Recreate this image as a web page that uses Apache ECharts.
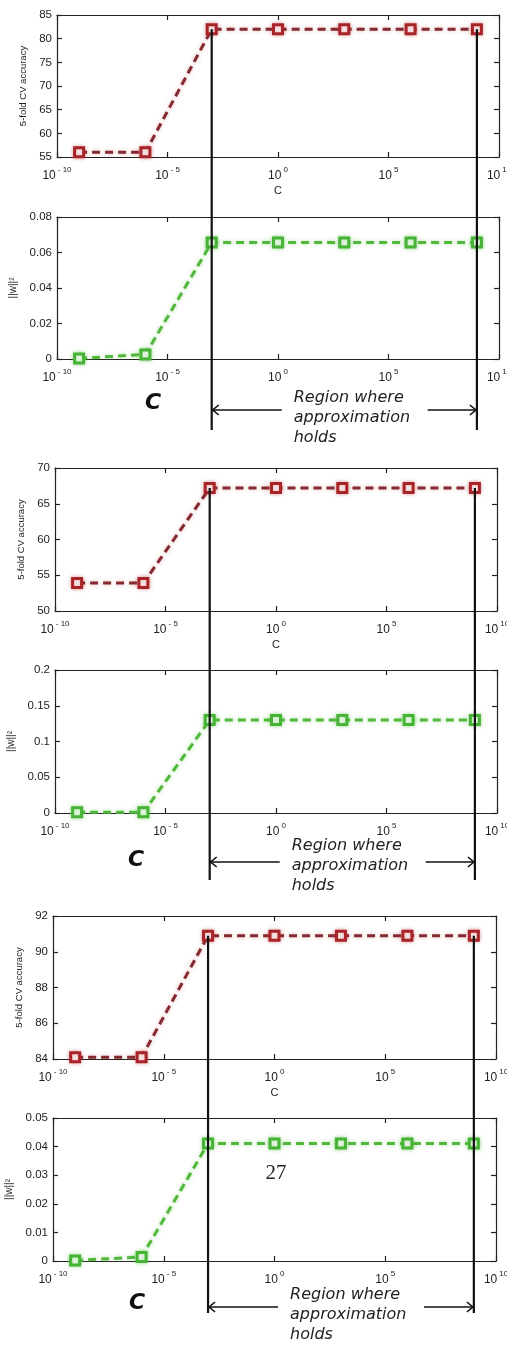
<!DOCTYPE html>
<html>
<head>
<meta charset="utf-8">
<script src="https://cdn.jsdelivr.net/npm/echarts@6/dist/echarts.min.js"></script>
<style>
html, body { margin: 0; padding: 0; background: #fff; }
#main { width: 507px; height: 1347px; }
</style>
</head>
<body>
<div id="main"></div>
<script>
// C values as log10 exponents (10^-9 ... 10^9)
const cExp = [-9, -6, -3, 0, 3, 6, 9];

const acc1 = [56, 56, 82, 82, 82, 82, 82];
const norm1 = [0.0003, 0.0026, 0.0657, 0.0657, 0.0657, 0.0657, 0.0657];
const acc2 = [53.9, 53.9, 67.2, 67.2, 67.2, 67.2, 67.2];
const norm2 = [0.001, 0.001, 0.130, 0.130, 0.130, 0.130, 0.130];
const acc3 = [84.1, 84.1, 90.9, 90.9, 90.9, 90.9, 90.9];
const norm3 = [0.0002, 0.0014, 0.0411, 0.0411, 0.0411, 0.0411, 0.0411];

// y ranges: [min, max, interval]
const yRanges = [
  [55, 85, 5], [0, 0.08, 0.02],
  [50, 70, 5], [0, 0.2, 0.05],
  [84, 92, 2], [0, 0.05, 0.01]
];
const accName = '5-fold CV accuracy';
const normName = '||w||²';

// grid boxes [left, top, width, height]
const boxes = [
  [57, 15, 442, 142], [57, 217, 442, 142],
  [55, 468, 442, 143], [55, 670, 442, 143],
  [53, 916, 443, 143], [53, 1118, 443, 143]
];
// annotation layout per group
const notes = [
  { cx: 153, cy: 403, lineEnd: 71, arrow: 51, text: 22 },
  { cx: 136, cy: 860, lineEnd: 67, arrow: 49, text: 26 },
  { cx: 137, cy: 1303, lineEnd: 52, arrow: 46, text: 22 }
];

const allSeries = [acc1, norm1, acc2, norm2, acc3, norm3];
const RED_LINE = '#842a30', RED_MARK = '#a82428';
const GREEN_LINE = '#52b83c', GREEN_MARK = '#46b236';
const AX = '#222';

const chart = echarts.init(document.getElementById('main'));

const grid = [], xAxis = [], yAxis = [], series = [];
boxes.forEach(function (b) {
  grid.push({ left: b[0], top: b[1], width: b[2], height: b[3], show: false, outerBoundsMode: 'none', containLabel: false });
});

function xLabel(v) {
  return '{b|10}{s|' + (v < 0 ? '- ' + (-v) : v) + '}';
}

const tick = { show: true, inside: true, length: 5, lineStyle: { color: AX, width: 1.2 } };

// main axes 0..5
for (let i = 0; i < 6; i++) {
  const isAcc = i % 2 === 0;
  xAxis.push({
    type: 'value', gridIndex: i, min: -10, max: 10, interval: 5,
    name: isAcc ? 'C' : '', nameLocation: 'middle', nameGap: 28,
    nameTextStyle: { color: AX, fontSize: 11, fontFamily: 'Liberation Sans' },
    axisLine: { onZero: false, lineStyle: { color: AX, width: 1.2 } },
    axisTick: tick,
    splitLine: { show: false },
    axisLabel: {
      margin: 9,
      formatter: xLabel,
      rich: {
        b: { fontSize: 12, color: AX, fontFamily: 'Liberation Sans', verticalAlign: 'bottom', lineHeight: 16 },
        s: { fontSize: 8, color: AX, fontFamily: 'Liberation Sans', verticalAlign: 'top', lineHeight: 16, padding: [0, 0, 6, 2] }
      }
    }
  });
  const r = yRanges[i];
  yAxis.push({
    type: 'value', gridIndex: i, min: r[0], max: r[1], interval: r[2],
    name: isAcc ? accName : normName, nameLocation: 'middle', nameRotate: 90,
    nameGap: isAcc ? 26 : 24,
    nameTextStyle: { color: AX, fontSize: isAcc ? 9.5 : 10, fontFamily: 'Liberation Sans' },
    axisLine: { show: true, onZero: false, lineStyle: { color: AX, width: 1.2 } },
    axisTick: tick,
    splitLine: { show: false },
    axisLabel: { margin: 5, color: AX, fontSize: 11.5, fontFamily: 'Liberation Sans' }
  });
}
// mirror axes 6..11 (top / right frame with inner ticks)
for (let i = 0; i < 6; i++) {
  const r = yRanges[i];
  xAxis.push({
    type: 'value', gridIndex: i, position: 'top', min: -10, max: 10, interval: 5,
    axisLine: { onZero: false, lineStyle: { color: AX, width: 1.2 } },
    axisTick: tick,
    axisLabel: { show: false }, splitLine: { show: false }
  });
  yAxis.push({
    type: 'value', gridIndex: i, position: 'right', min: r[0], max: r[1], interval: r[2],
    axisLine: { show: true, onZero: false, lineStyle: { color: AX, width: 1.2 } },
    axisTick: tick,
    axisLabel: { show: false }, splitLine: { show: false }
  });
}

allSeries.forEach(function (vals, i) {
  const isAcc = i % 2 === 0;
  const lc = isAcc ? RED_LINE : GREEN_LINE;
  const mc = isAcc ? RED_MARK : GREEN_MARK;
  series.push({
    type: 'line', xAxisIndex: i, yAxisIndex: i,
    data: cExp.map(function (c, k) { return [c, vals[k]]; }),
    symbol: 'rect', symbolSize: 9, showSymbol: true,
    lineStyle: { color: lc, width: 3, type: [8, 5], shadowBlur: 4, shadowColor: isAcc ? 'rgba(180,40,40,0.35)' : 'rgba(80,190,60,0.45)' },
    itemStyle: { color: '#fff', borderColor: mc, borderWidth: 3, shadowBlur: 4, shadowColor: isAcc ? 'rgba(180,40,40,0.4)' : 'rgba(80,190,60,0.5)' },
    z: 3,
    animation: false
  });
});

chart.setOption({ animation: false, grid: grid, xAxis: xAxis, yAxis: yAxis, series: series });

// annotations: region lines, arrows, labels
const graphic = [];
notes.forEach(function (n, g) {
  const accIdx = g * 2, normIdx = g * 2 + 1;
  const top = chart.convertToPixel({ seriesIndex: accIdx }, [cExp[2], allSeries[accIdx][2]]);
  const right = chart.convertToPixel({ seriesIndex: accIdx }, [cExp[6], allSeries[accIdx][6]]);
  const bottom = chart.convertToPixel({ seriesIndex: normIdx }, [cExp[2], yRanges[normIdx][0]]);
  const x1 = top[0], x2 = right[0];
  const yEnd = bottom[1] + n.lineEnd;
  const ay = bottom[1] + n.arrow;
  const tx = x1 + 82;
  [[x1, top[1]], [x2, right[1]]].forEach(function (p) {
    graphic.push({ type: 'line', z: 10, shape: { x1: p[0], y1: p[1], x2: p[0], y2: yEnd }, style: { stroke: '#111', lineWidth: 2.2 } });
  });
  graphic.push({ type: 'line', z: 10, shape: { x1: x1, y1: ay, x2: tx - 12, y2: ay }, style: { stroke: '#111', lineWidth: 1.6 } });
  graphic.push({ type: 'line', z: 10, shape: { x1: tx + 134, y1: ay, x2: x2, y2: ay }, style: { stroke: '#111', lineWidth: 1.6 } });
  graphic.push({ type: 'polyline', z: 10, shape: { points: [[x1 + 7, ay - 5], [x1 + 1, ay], [x1 + 7, ay + 5]] }, style: { stroke: '#111', lineWidth: 1.6, fill: null } });
  graphic.push({ type: 'polyline', z: 10, shape: { points: [[x2 - 7, ay - 5], [x2 - 1, ay], [x2 - 7, ay + 5]] }, style: { stroke: '#111', lineWidth: 1.6, fill: null } });
  graphic.push({
    type: 'text', z: 10, x: tx, y: ay - n.text,
    style: {
      text: 'Region where\napproximation\nholds', fill: '#222',
      fontFamily: 'DejaVu Sans', fontStyle: 'italic', fontSize: 16, lineHeight: 20,
      align: 'left', verticalAlign: 'top'
    }
  });
  graphic.push({
    type: 'text', z: 10, x: n.cx, y: n.cy,
    style: {
      text: 'C', fill: '#111', fontFamily: 'DejaVu Sans', fontWeight: 'bold', fontStyle: 'italic',
      fontSize: 22, align: 'center', verticalAlign: 'middle'
    }
  });
});
graphic.push({
  type: 'text', z: 10, x: 276, y: 1173,
  style: { text: '27', fill: '#222', fontFamily: 'Liberation Serif', fontSize: 21, align: 'center', verticalAlign: 'middle' }
});
chart.setOption({ graphic: graphic });
</script>
</body>
</html>
